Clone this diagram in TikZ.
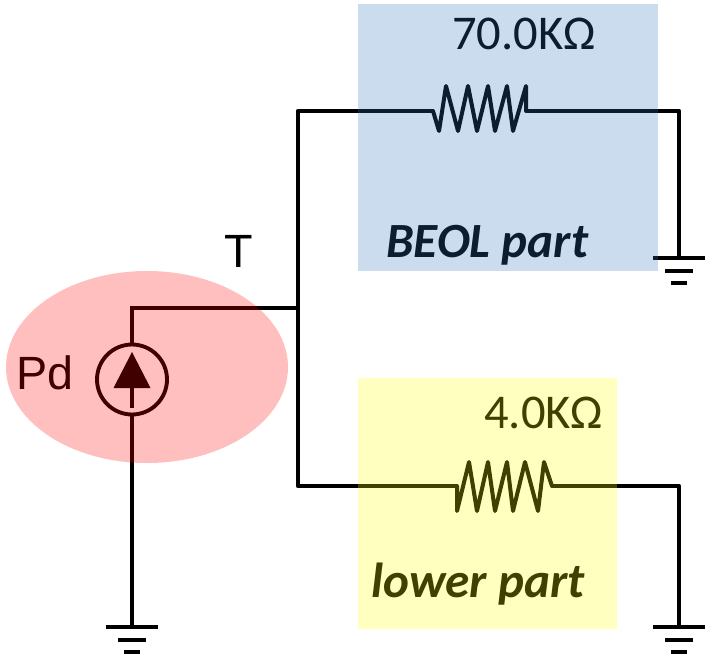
\documentclass[tikz,border=0pt]{standalone}
\usepackage{fontspec}
\setmainfont{Liberation Sans}
\newfontfamily\carlitofont{Carlito}
\begin{document}
\begin{tikzpicture}[x=0.75pt,y=-0.75pt,
  wire/.style={line width=3.2pt,line join=round,black},
  thinwire/.style={line width=2.6pt,line join=miter,black},
  res/.style={line width=3pt,line join=round,line cap=round,black},
  bar/.style={line width=3pt,black},
  lbl/.style={inner sep=0pt,anchor=base west,black},
  val/.style={lbl,font=\carlitofont\fontsize{36.4}{40}\selectfont},
  part/.style={lbl,font=\carlitofont\bfseries\itshape\fontsize{36.9}{40}\selectfont},
  sans/.style={lbl,font=\fontsize{35}{40}\selectfont},
  overlay fill/.style={draw=none,fill opacity=0.25}]
\useasboundingbox (0,0) rectangle (712,656);
% named points
\coordinate (J1) at (298,308);
\coordinate (JT) at (298,111);
\coordinate (JB) at (298,486);
\coordinate (R1a) at (433,111);
\coordinate (R1b) at (526,111);
\coordinate (R2a) at (457,486);
\coordinate (R2b) at (552,486);
\coordinate (C1) at (679,111);
\coordinate (C2) at (679,486);
\coordinate (G1) at (679,258);
\coordinate (G2) at (679,627);
\coordinate (G3) at (132,627);
\coordinate (S) at (132,379.5);
\coordinate (Stop) at (132,344);
\coordinate (Sbot) at (132,415);
\coordinate (Scorner) at (132,308);
% wires
\draw[thinwire] (Stop) -- (Scorner) -- (J1);
\draw[wire] (R1a) -- (JT) -- (JB) -- (R2a);
\draw[wire] (R1b) -- (C1) -- (G1);
\draw[wire] (R2b) -- (C2) -- (G2);
\draw[wire] (Sbot) -- (G3);
% resistors
\draw[res] (R1a) -- (439,131) -- (446,86) -- (458,131) -- (468,86) -- (477,131) -- (488,86) -- (495,131) -- (507,86) -- (513,131) -- (526,86) -- (R1b);
\draw[res] (R2a) -- (457,511) -- (469,462) -- (477,511) -- (488,462) -- (495,511) -- (507,462) -- (513,511) -- (525,462) -- (538,511) -- (544,462) -- (R2b);
% source
\draw[line width=2.9pt,black] (S) circle (35);
\fill[black] (132,352) -- (150.5,388) -- (113.5,388) -- cycle;
\draw[line width=2.6pt,black] (132,388) -- (132,408);
% grounds
\foreach \g in {G1,G2,G3}{
  \draw[bar] ([xshift=-19.5pt]\g) -- ([xshift=19.5pt]\g);
  \draw[bar] ([xshift=-10.5pt,yshift=-9.6pt]\g) -- ([xshift=10.5pt,yshift=-9.6pt]\g);
  \draw[bar] ([xshift=-6pt,yshift=-18.6pt]\g) -- ([xshift=6pt,yshift=-18.6pt]\g);
}
% labels
\node[sans] (pd) at (16,389) {Pd};
\node[sans] (t) at (224,267) {T};
\node[val] (v1) at (452,50) {70.0KΩ};
\node[val] (v2) at (484,428) {4.0KΩ};
\node[part] (p1) at (386,257) {BEOL part};
\node[part] (p2) at (371,597) {lower part};
% translucent overlays
\fill[overlay fill,fill={rgb,255:red,46;green,117;blue,190}] (358,4) rectangle (658,271);
\fill[overlay fill,fill={rgb,255:red,255;green,255;blue,0}] (358,378) rectangle (617,629);
\fill[overlay fill,fill=red] (147,367) ellipse [x radius=141,y radius=96];
\end{tikzpicture}
\end{document}
